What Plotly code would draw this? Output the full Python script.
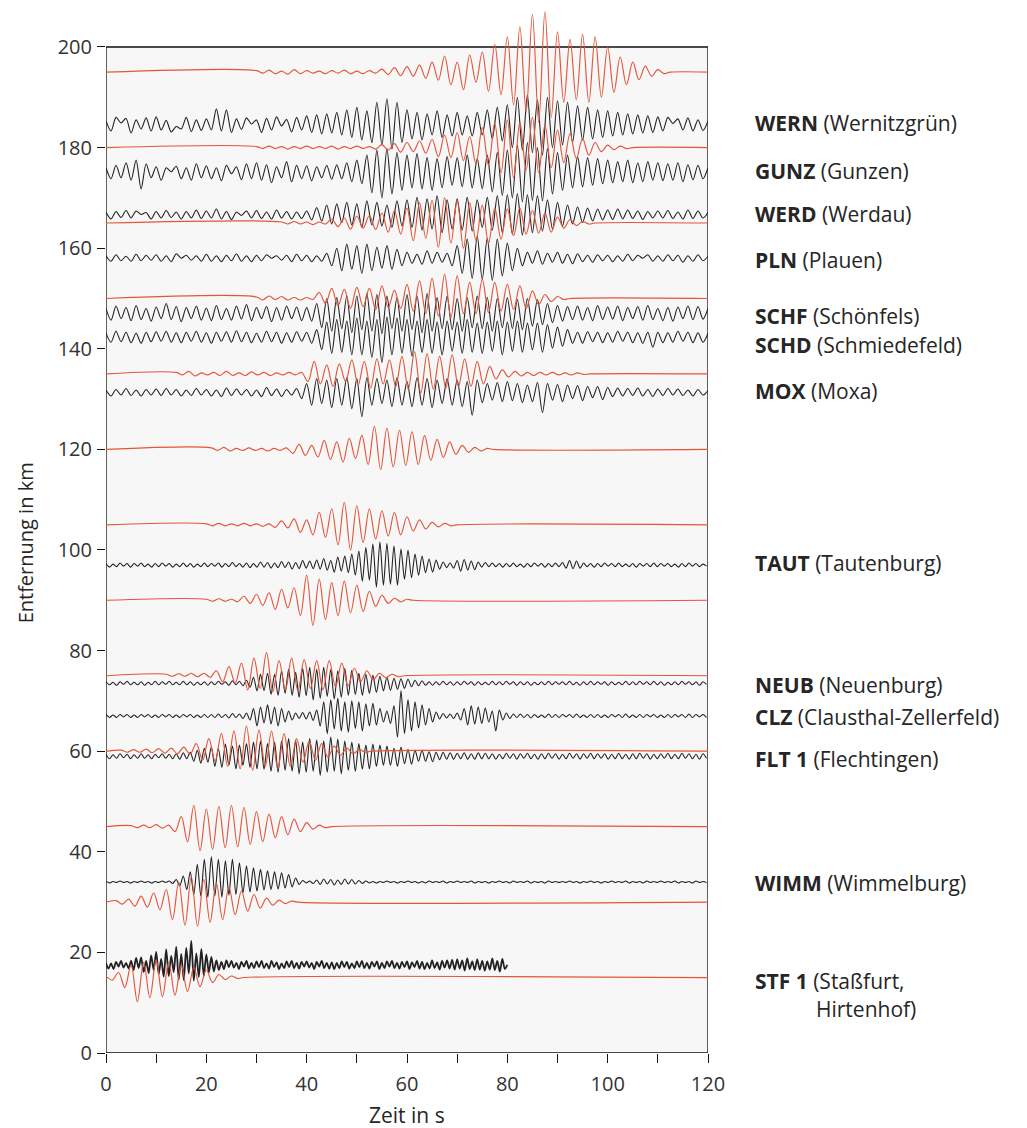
import plotly.graph_objects as go

# ---------------- data (distance offsets in km, time in s, amplitudes in km) ----------------
X_TICKS = [0, 10, 20, 30, 40, 50, 60, 70, 80, 90, 100, 110, 120]
X_TICK_LABELS = ["0", "", "20", "", "40", "", "60", "", "80", "", "100", "", "120"]
Y_TICKS = [0, 20, 40, 60, 80, 100, 120, 140, 160, 180, 200]

# synthetic (red) seismograms: offset, start time, sample step (half period), extrema
red_offsets = [195, 180, 165, 150, 135, 120, 105, 90, 75, 60, 45, 30, 15]
red_start = [30, 30, 35, 30, 14, 21, 20, 20, 12, 3, 5, 2, 0]
red_dt = 1.25

R195 = [0.3,-0.2,0.4,-0.3,0.2,-0.4,0.5,-0.3,0.3,-0.2,0.2,-0.3,0.3,-0.2,0.4,-0.3,0.2,-0.3,0.3,-0.2,
        0.6,-0.5,0.9,-0.7,1.1,-0.8,1.4,-1.2,2.0,-1.6,3.2,-2.5,2.0,-3.5,3.4,-2.0,4.0,-3.8,5.5,-4.5,
        7.0,-6.5,9.0,-8.0,11.5,-10.0,12.0,-9.0,8.0,-6.0,6.5,-5.5,7.5,-6.0,7.0,-5.0,5.0,-4.0,
        3.0,-2.5,2.0,-1.5,1.2,-0.8,0.5,-0.3]
R180 = [0.2,-0.2,0.3,-0.2,0.2,-0.3,0.2,-0.2,0.3,-0.2,0.2,-0.2,0.3,-0.3,0.2,-0.2,0.3,-0.2,0.2,-0.3,
        0.6,-0.5,0.8,-0.9,1.0,-0.8,1.3,-1.1,1.6,-1.8,2.5,-2.0,3.0,-2.6,2.2,-3.2,
        4.0,-3.5,4.8,-5.0,5.5,-6.0,5.0,-4.5,6.0,-5.0,4.5,-4.0,3.5,-3.0,2.8,-2.2,1.8,-1.5,1.0,-0.8,
        0.5,-0.4,0.3,-0.2]
R165 = [0.2,-0.2,0.3,-0.2,0.2,-0.3,0.2,-0.2,0.8,-0.7,1.0,-1.2,1.4,-1.0,1.5,-1.3,2.0,-1.8,2.5,-2.2,
        3.0,-3.5,4.0,-3.0,4.5,-4.8,5.0,-4.0,4.5,-5.0,4.0,-3.5,3.5,-4.0,3.0,-3.2,
        2.8,-2.5,3.0,-2.2,2.5,-2.0,2.0,-1.8,1.2,-1.0,0.7,-0.5,0.3,-0.2]
R150 = [0.3,-0.3,0.5,-0.2,0.4,-0.3,0.2,-0.3,0.2,-0.2,
        1.2,-1.0,2.0,-1.5,1.8,-2.0,2.2,-1.6,2.0,-2.2,2.5,-1.8,1.6,-2.0,
        2.8,-2.5,3.5,-3.0,4.0,-3.5,4.8,-3.8,4.5,-3.0,3.2,-3.0,3.8,-2.8,3.2,-2.5,2.8,-2.2,2.5,-2.0,
        1.5,-1.2,0.8,-0.6,0.4,-0.2]
R135 = [0.3,-0.2,0.5,-0.4,0.2,-0.2,0.3,-0.3,0.5,-0.3,0.2,-0.3,0.4,-0.2,0.3,-0.3,0.2,-0.2,0.3,-0.2,0.3,
        -1.5,2.5,-2.0,1.8,-2.5,2.0,-1.5,2.8,-2.2,2.5,-2.8,3.0,-2.0,2.8,-2.5,
        3.5,-3.0,4.4,-3.8,4.0,-3.0,3.5,-2.8,3.8,-2.5,3.0,-2.5,2.5,-2.0,1.5,
        -1.0,0.8,-0.6,0.5,-0.4,0.3,-0.3,0.3,-0.2,0.3,-0.2,0.2,-0.2,0.2,-0.1]
R120 = [0.3,-0.2,0.4,-0.3,0.2,-0.2,0.3,-0.2,0.2,-0.3,0.2,-0.2,0.3,
        -0.8,1.0,-1.2,0.8,-1.5,1.8,-2.0,1.5,-2.5,2.2,-1.8,2.8,-3.0,
        4.6,-4.0,4.2,-3.5,3.8,-3.2,3.5,-3.0,2.8,-2.2,2.0,-1.6,1.5,-1.0,0.8,-0.6,0.4,-0.3,0.2]
R105 = [0.2,-0.2,0.3,-0.2,0.2,-0.2,0.3,-0.2,0.2,-0.3,0.2,
        -0.5,0.8,-0.6,1.2,-1.5,1.0,-2.0,2.5,-2.5,3.2,
        -4.0,4.5,-5.0,3.8,-3.5,3.2,-2.8,2.8,-2.2,2.5,-2.0,
        1.6,-1.2,1.0,-0.8,0.5,-0.4,0.3,-0.2]
R90 = [0.2,-0.2,0.3,-0.2,0.2,-0.3,0.8,-0.6,1.2,-1.0,1.5,-1.8,2.2,-1.5,2.5,
       -3.0,5.0,-5.0,4.2,-3.8,3.5,-3.0,3.8,-2.5,3.0,-2.2,1.8,-1.2,1.0,-0.6,0.4,-0.3,0.2]
R75 = [0.3,-0.1,0.4,-0.1,0.5,-0.2,0.5,-0.3,
       1.0,-1.2,1.8,-1.5,2.5,-2.8,3.5,-2.5,4.6,-3.2,3.0,-2.8,
       3.5,-3.0,3.2,-2.5,3.0,-2.8,3.0,-2.2,2.5,-2.0,1.5,-1.2,1.0,-0.8,0.5,-0.4,0.3,-0.2]
R60 = [0.2,-0.2,0.3,-0.2,0.4,-0.3,0.5,-0.4,0.6,-0.5,0.8,-0.6,
       1.5,-1.8,2.5,-2.0,3.5,-3.0,4.0,-3.5,5.0,-3.8,4.2,-3.0,4.0,-3.5,3.5,-3.0,
       2.5,-2.2,2.0,-1.8,1.5,-1.2,1.0,-0.8,0.6,-0.5,0.3,-0.2]
R45 = [0.2,-0.2,0.3,-0.2,0.4,-0.3,0.3,
       -1.0,2.0,-3.0,4.2,-4.8,3.5,-4.5,4.0,-4.2,4.2,-4.0,3.8,-3.5,3.0,-3.0,2.5,-2.2,
       2.0,-1.6,1.5,-1.0,0.8,-0.5,0.3,-0.2]
R30 = [0.3,-0.4,0.6,-0.8,1.2,-1.0,1.8,-1.5,2.5,-3.5,4.0,-4.6,5.0,-4.8,4.5,-4.0,3.8,-3.5,
       3.0,-2.5,2.2,-1.8,1.5,-1.2,0.8,-0.6,0.4,-0.3,0.2]
R15 = [0.3,-0.5,1.0,-2.0,2.5,-4.8,3.0,-4.0,3.5,-3.8,3.0,-3.5,2.5,-2.8,
       2.0,-1.8,1.5,-1.0,0.6,-0.4,0.3,-0.2]
red_values = [R195, R180, R165, R150, R135, R120, R105, R90, R75, R60, R45, R30, R15]

# observed (black) seismograms: offset and sample step (half period) of the extrema
black_names = ["WERN", "GUNZ", "WERD", "PLN", "SCHF", "SCHD", "MOX",
               "TAUT", "NEUB", "CLZ", "FLT1", "WIMM", "STF1"]
black_offsets = [184.5, 175.0, 166.6, 158.0, 147.0, 142.3, 131.3,
                 97.0, 73.5, 67.0, 59.0, 34.0, 17.5]
black_dt = [1.0, 1.0, 1.0, 1.0, 1.0, 1.0, 1.0, 0.7, 0.7, 0.7, 0.7, 0.7, 0.5]

WERN = [0.8,-1.2,1.5,0.4,1.3,-1.6,1.0,-0.8,1.4,-1.2, 1.6,-1.0,0.9,-1.4,-0.3,-0.8,1.5,-1.3,1.0,-1.1,
        1.2,-1.0,3.2,-1.2,3.0,-1.5,1.2,-0.9,1.4,0.2, 1.0,-1.5,1.3,-1.0,1.6,-0.2,1.1,-1.4,1.5,-1.0,
        1.8,-1.5,2.0,-1.8,2.2,-1.6,2.5,-2.0,3.0,-2.5, 3.5,-3.0,2.8,-3.5,4.5,-4.0,5.2,-4.8,4.5,-3.5,
        3.0,-2.8,2.5,-3.0,2.2,-2.0,2.8,-2.5,2.0,-2.2, 2.5,-2.0,1.8,-2.2,2.5,-2.0,3.0,-2.8,3.5,-3.2,
        4.0,-4.5,5.5,-5.0,6.0,-5.5,5.0,-6.0,5.5,-4.5, 4.8,-4.0,4.5,-3.5,3.8,-3.0,3.5,-2.8,3.0,-2.5,
        2.8,-2.2,2.5,-2.0,2.2,-1.8,2.0,-1.6,1.8,-1.5, 1.6,-1.2,1.5,0.3,1.2,-1.0,1.4,-1.2,1.0,-1.1,0.8]
GUNZ = [1.0,-1.2,1.5,-1.0,2.0,-1.5,2.5,-3.2,1.8,-1.0, 1.2,-1.5,1.0,0.2,1.3,-1.2,1.0,-1.5,1.8,-1.0,
        1.4,-1.2,1.0,-1.6,1.5,-0.2,1.2,-1.4,1.8,-1.2, 2.0,-1.5,1.6,-2.0,1.2,-1.0,2.2,-1.8,1.5,-1.2,
        1.4,-1.6,1.2,-1.0,1.5,-1.3,1.6,-1.2,2.0,-1.8, 2.5,-2.2,3.5,-4.0,4.5,-5.0,4.8,-4.2,4.0,-3.5,
        3.5,-3.0,3.8,-3.2,3.0,-3.5,2.8,-3.0,3.2,-2.5, 3.0,-2.8,3.5,-3.0,2.8,-3.2,3.5,-3.8,4.0,-4.5,
        4.5,-5.0,5.5,-5.8,6.0,-5.5,5.0,-5.6,4.8,-4.2, 4.0,-3.5,3.5,-3.0,3.2,-2.8,3.0,-2.5,2.8,-2.2,
        2.5,-2.0,2.2,-1.8,2.5,-2.0,2.0,-1.8,2.2,-1.5, 2.0,-1.6,1.8,-1.5,2.0,-1.8,1.6,-1.4,1.5,-1.2,1.0]
WERD = [0.6,-0.8,0.7,-0.5,0.9,-0.6,0.8,0.1,0.5,-0.8, 0.7,-0.6,0.9,-0.5,0.6,-0.8,0.7,-0.6,1.0,-0.7,
        0.8,-0.6,1.2,-0.8,0.7,-0.9,0.6,-0.1,0.8,-0.6, 0.9,-0.7,0.6,-0.8,1.0,-0.6,0.7,-0.8,0.6,-0.7,
        0.8,-1.0,1.5,-1.2,2.0,-1.8,2.2,-1.5,2.5,-2.0, 2.2,-2.5,2.8,-2.0,2.5,-2.2,2.0,-2.5,2.8,-2.2,
        3.0,-2.5,3.5,-3.0,3.2,-2.8,3.8,-3.5,3.0,-2.8, 3.2,-3.0,3.5,-3.2,3.0,-2.5,3.5,-3.0,3.8,-3.5,
        4.0,-3.8,4.2,-4.0,4.0,-3.5,3.8,-3.2,3.0,-2.8, 2.5,-2.2,2.0,-1.8,1.6,-1.5,1.4,-1.2,1.2,-1.0,
        1.0,-0.9,1.2,-0.8,1.0,-0.7,0.8,-0.9,0.7,-0.6, 0.8,-0.6,0.9,-0.7,0.6,-0.8,1.0,-0.7,0.8,-0.6,0.5]
PLN = [0.5,-0.6,0.7,-0.5,0.4,-0.6,0.8,-0.5,0.6,-0.4, 0.7,-0.6,0.5,-0.7,0.9,0.0,0.6,-0.4,0.5,-0.6,
       0.8,-0.6,0.5,-0.7,0.6,-0.5,0.9,-0.6,0.5,-0.7, 0.6,-0.5,0.7,0.0,0.5,-0.4,0.6,-0.7,0.8,-0.5,
       0.6,-0.7,0.5,-0.6,1.0,-1.5,2.0,-2.5,2.8,-2.2, 2.5,-3.0,2.8,-2.5,2.2,-2.0,2.5,-2.2,1.8,-1.5,
       1.2,-1.0,0.8,-1.2,1.5,-1.0,1.2,-0.8,1.0,-1.5, 2.5,-3.0,3.8,-4.0,4.4,-4.2,4.0,-4.4,3.8,-3.5,
       3.0,-2.5,2.0,-1.5,1.2,-1.0,1.5,-1.2,1.0,-0.8, 1.2,-1.0,0.8,-1.1,0.9,-0.7,0.6,-0.8,0.7,-0.5,
       0.6,-0.7,0.5,-0.6,0.8,-0.5,0.6,0.0,0.7,-0.6, 0.5,-0.6,0.7,-0.5,0.6,-0.8,0.5,-0.6,0.7,-0.5,0.4]
SCHF = [1.0,-1.3,1.5,-1.0,1.2,-1.4,1.6,-1.2,1.0,-1.5, 1.3,-1.0,2.0,-1.2,1.4,-1.6,1.2,-1.0,1.5,-1.3,
        1.1,-1.4,1.6,-1.2,1.0,-1.3,1.5,-1.1,1.8,-1.4, 1.2,-1.0,1.4,-1.6,1.2,-1.3,1.5,-1.0,1.3,-1.4,
        1.2,-1.5,2.0,-2.8,3.0,-3.5,3.2,-3.0,3.5,-3.8, 3.5,-3.2,4.0,-3.5,3.8,-4.0,3.5,-3.0,3.2,-3.5,
        3.8,-3.2,3.5,-3.8,4.0,-3.5,3.2,-3.0,3.5,-3.2, 3.0,-3.5,3.2,-2.8,3.5,-3.0,3.2,-3.5,3.0,-2.8,
        3.2,-3.0,2.8,-3.2,3.0,-2.5,2.8,-2.2,2.0,-1.8, 1.6,-1.5,1.4,-1.2,1.5,-1.3,1.2,-1.4,1.6,-1.2,
        1.3,-1.1,1.5,-1.4,1.2,-1.0,1.4,-1.3,1.6,-1.2, 1.0,-1.4,1.2,-1.5,1.3,-1.0,1.5,-1.2,1.4,-1.1,1.0]
SCHD = [0.8,-1.0,1.2,-0.9,1.0,-1.1,0.8,-1.2,1.0,-0.9, 1.1,-0.8,1.2,-1.0,0.9,-1.1,1.0,-0.8,1.2,-1.0,
        0.9,-1.2,1.0,-0.8,1.1,-1.0,1.3,-0.9,1.0,-1.1, 0.8,-1.0,1.2,-0.9,1.0,-1.2,0.9,-1.0,1.1,-0.8,
        1.0,-1.2,1.5,-2.5,3.0,-3.2,3.5,-3.0,3.2,-3.5, 3.8,-3.5,3.2,-4.0,3.5,-5.0,4.0,-3.5,3.8,-3.2,
        3.5,-3.8,3.2,-3.0,3.5,-3.2,3.0,-3.5,3.2,-2.8, 3.0,-3.2,3.5,-3.0,2.8,-3.2,3.0,-2.8,3.2,-3.5,
        3.0,-2.8,3.2,-3.0,2.8,-2.5,2.8,-3.0,2.5,-2.2, 2.0,-1.8,1.5,-1.2,1.0,-1.2,1.1,-0.9,1.0,-1.1,
        0.9,-1.0,1.2,-0.8,1.0,-1.1,0.9,-1.2,1.0,-2.0, 1.0,-1.1,0.9,-1.0,1.2,-0.8,1.0,-1.1,0.9,-1.0,0.8]
MOX = [0.5,-0.7,0.6,-0.5,0.8,-0.6,0.5,-0.7,0.6,-0.5, 0.7,-0.6,0.8,-0.5,0.6,-0.7,0.5,-0.6,0.8,-0.5,
       0.6,-0.7,0.5,-0.8,0.9,-0.6,0.7,-0.5,0.6,-0.7, 0.5,-0.8,1.0,-0.6,0.7,-0.8,0.6,-0.5,0.8,-1.2,
       1.8,-2.5,2.8,-2.2,2.5,-3.0,2.8,-2.5,3.0,-3.2, 2.8,-4.8,3.0,-2.5,2.8,-2.2,2.5,-2.8,3.0,-2.5,
       2.2,-2.8,3.0,-2.5,2.8,-3.0,2.5,-2.2,2.8,-2.5, 2.5,-2.8,2.2,-4.5,2.5,-2.0,1.8,-1.5,2.0,-1.8,
       2.2,-1.6,1.8,-2.0,1.5,-1.8,2.0,-4.0,1.8,-1.5, 1.6,-1.8,1.5,-1.2,1.4,-1.6,1.2,-1.0,1.2,-1.4,
       1.0,-0.8,0.9,-0.7,0.8,-0.6,0.9,-0.7,0.6,-0.8, 0.7,-0.6,0.8,-0.5,0.7,-0.6,0.5,-0.7,0.6,-0.5,0.4]
TAUT = [0.3,-0.4,0.2,-0.3,0.4,-0.2,0.3,-0.4,0.3,-0.2, 0.4,-0.3,0.2,-0.4,0.3,-0.3,0.4,-0.2,0.3,-0.4,
        0.2,-0.3,0.4,-0.3,0.3,-0.4,0.2,-0.3,0.4,-0.3, 0.3,-0.2,0.4,-0.4,0.3,-0.3,0.5,-0.3,0.3,-0.4,
        0.4,-0.5,0.3,-0.4,0.6,-0.4,0.5,-0.6,0.4,-0.5, 0.7,-0.5,0.6,-0.8,0.5,-0.7,0.9,-0.6,0.8,-0.7,
        1.0,-0.8,1.3,-1.0,0.9,-1.4,1.6,-1.2,1.8,-1.5, 2.2,-2.0,2.8,-3.2,3.5,-3.0,4.2,-4.4,4.6,-4.0,
        4.3,-3.8,3.8,-4.0,3.2,-2.8,3.0,-2.5,2.2,-2.0, 1.8,-1.5,1.2,-1.4,1.0,-0.8,0.6,-0.5,0.4,-0.6,
        0.9,-1.2,1.1,-1.0,0.8,-0.9,0.6,-0.4,0.5,-0.3, 0.4,-0.3,0.3,-0.4,0.3,-0.3,0.4,-0.3,0.2,-0.4,
        0.3,-0.3,0.4,-0.2,0.3,-0.4,0.3,-0.3,0.4,-0.3, 0.5,-0.6,0.9,-0.7,0.8,-0.6,0.4,-0.3,0.3,-0.4,
        0.3,-0.3,0.4,-0.2,0.3,-0.3,0.4,-0.3,0.2,-0.3, 0.3,-0.4,0.3,-0.2,0.3,-0.3,0.4,-0.3,0.3,-0.2,
        0.3,-0.3,0.2,-0.4,0.3,-0.3,0.4,-0.2,0.3,-0.3, 0.2,-0.2]
NEUB = [0.3,-0.3,0.2,-0.4,0.3,-0.2,0.4,-0.3,0.2,-0.3, 0.3,-0.4,0.2,-0.3,0.4,-0.3,0.3,-0.2,0.4,-0.3,
        0.2,-0.3,0.4,-0.3,0.3,-0.4,0.2,-0.3,0.3,-0.4, 0.3,-0.3,0.4,-0.2,0.3,-0.4,0.5,-0.3,0.4,-0.5,
        0.6,-0.8,1.2,-1.5,1.8,-1.4,2.0,-2.2,1.8,-2.4, 2.5,-2.0,2.8,-2.4,2.2,-2.8,3.0,-2.5,3.2,-3.3,
        2.8,-3.0,3.2,-2.6,2.8,-3.1,2.5,-2.8,3.0,-2.4, 2.6,-2.2,2.0,-2.4,1.8,-2.0,1.6,-1.8,1.4,-1.5,
        1.2,-1.4,1.0,-1.2,0.9,-1.0,0.8,-0.7,0.6,-0.5, 0.5,-0.4,0.3,-0.4,0.3,-0.3,0.4,-0.3,0.3,-0.4,
        0.3,-0.3,0.4,-0.2,0.3,-0.4,0.3,-0.3,0.2,-0.3, 0.4,-0.3,0.3,-0.3,0.4,-0.2,0.3,-0.4,0.3,-0.3,
        0.3,-0.4,0.2,-0.3,0.3,-0.3,0.4,-0.3,0.3,-0.2, 0.3,-0.3,0.4,-0.3,0.2,-0.4,0.3,-0.3,0.4,-0.3,
        0.3,-0.2,0.3,-0.4,0.3,-0.3,0.2,-0.3,0.4,-0.3, 0.3,-0.3,0.4,-0.2,0.3,-0.3,0.4,-0.3,0.3,-0.4,
        0.2,-0.3,0.3,-0.3,0.4,-0.2,0.3,-0.3,0.3,-0.4, 0.3,-0.2]
CLZ = [0.3,-0.3,0.2,-0.3,0.3,-0.2,0.3,-0.3,0.2,-0.3, 0.3,-0.2,0.3,-0.3,0.2,-0.3,0.3,-0.2,0.3,-0.3,
       0.2,-0.3,0.3,-0.2,0.3,-0.3,0.2,-0.3,0.3,-0.3, 0.3,-0.3,0.4,-0.3,0.3,-0.4,0.5,-0.3,0.4,-0.5,
       0.6,-0.8,1.5,-2.0,1.8,-1.4,2.2,-1.6,1.8,-2.0, 1.5,-1.2,1.0,-0.8,0.6,-0.5,0.7,-0.6,0.8,-0.9,
       1.2,-2.0,2.8,-3.5,3.2,-2.6,3.5,-3.0,2.8,-3.2, 3.0,-2.5,2.8,-3.0,2.4,-2.0,2.5,-1.8,1.5,-1.2,
       1.0,-1.5,2.0,-4.2,5.0,-3.5,3.2,-3.0,2.8,-2.4, 2.2,-1.8,1.5,-1.2,0.8,-0.6,0.5,-0.4,0.4,-0.5,
       0.6,-0.8,1.5,-1.8,2.0,-1.6,1.8,-1.5,1.6,-1.2, 1.0,-3.0,1.2,-0.8,0.6,-0.5,0.4,-0.3,0.4,-0.3,
       0.3,-0.4,0.3,-0.3,0.2,-0.3,0.4,-0.3,0.3,-0.3, 0.3,-0.2,0.3,-0.3,0.4,-0.3,0.2,-0.3,0.3,-0.3,
       0.3,-0.3,0.2,-0.3,0.3,-0.2,0.3,-0.3,0.4,-0.3, 0.2,-0.3,0.3,-0.3,0.3,-0.2,0.3,-0.3,0.2,-0.3,
       0.3,-0.3,0.3,-0.2,0.3,-0.3,0.4,-0.3,0.3,-0.2, 0.3,-0.3]
FLT1 = [0.4,-0.5,0.3,-0.4,0.5,-0.3,0.4,-0.5,0.3,-0.4, 0.5,-0.4,0.3,-0.5,0.4,-0.3,0.5,-0.4,0.4,-0.5,
        0.5,-0.6,0.7,-0.5,0.8,-1.0,1.2,-1.4,1.6,-1.2, 1.8,-2.0,1.5,-2.2,2.4,-1.8,2.0,-2.5,2.2,-1.8,
        2.5,-2.2,2.8,-2.5,3.0,-2.6,2.5,-3.0,2.8,-3.2, 3.0,-2.8,3.5,-3.0,3.2,-3.5,2.8,-3.2,3.5,-3.0,
        3.2,-3.8,3.0,-3.2,3.8,-3.0,3.4,-3.5,3.0,-2.8, 2.8,-3.0,2.5,-2.6,2.2,-2.5,2.4,-2.0,2.2,-1.8,
        2.0,-1.8,1.6,-2.0,1.8,-1.5,1.4,-1.6,1.2,-1.0, 1.2,-1.0,0.9,-1.1,0.8,-0.7,0.8,-0.6,0.7,-0.6,
        0.6,-0.5,0.7,-0.6,0.5,-0.6,0.7,-0.5,0.6,-0.5, 0.5,-0.6,0.4,-0.5,0.6,-0.4,0.5,-0.6,0.5,-0.4,
        0.6,-0.5,0.4,-0.6,0.5,-0.5,0.6,-0.4,0.5,-0.6, 0.4,-0.5,0.6,-0.4,0.5,-0.6,0.5,-0.4,0.6,-0.5,
        0.5,-0.4,0.5,-0.6,0.4,-0.5,0.6,-0.5,0.4,-0.6, 0.5,-0.5,0.6,-0.4,0.5,-0.6,0.4,-0.5,0.5,-0.4,
        0.6,-0.5,0.4,-0.5,0.6,-0.4,0.5,-0.5,0.4,-0.6, 0.5,-0.4]
WIMM = [0.1,-0.2,0.1,-0.1,0.2,-0.1,0.1,-0.2,0.1,-0.1, 0.2,-0.1,0.1,-0.2,0.1,-0.1,0.2,-0.1,0.2,-0.3,
        0.5,-0.8,1.2,-1.5,2.0,-2.5,3.5,-2.8,4.5,-3.0, 5.0,-2.8,4.5,-3.0,4.2,-2.6,4.5,-2.5,3.8,-2.2,
        3.2,-2.0,2.8,-1.8,2.5,-1.6,2.2,-1.5,2.0,-1.4, 1.8,-1.2,1.5,-1.0,0.8,-0.5,0.3,-0.2,0.2,-0.3,
        0.4,-0.5,0.6,-0.4,0.5,-0.6,0.4,-0.5,0.6,-0.4, 0.5,-0.4,0.3,-0.3,0.2,-0.2,0.1,-0.2,0.1,-0.1,
        0.2,-0.1,0.1,-0.2,0.1,-0.1,0.2,-0.1,0.1,-0.2, 0.1,-0.2,0.2,-0.1,0.1,-0.1,0.2,-0.2,0.1,-0.1,
        0.2,-0.1,0.1,-0.1,0.2,-0.2,0.1,-0.1,0.1,-0.2, 0.1,-0.1,0.2,-0.1,0.1,-0.2,0.2,-0.1,0.1,-0.1,
        0.2,-0.2,0.1,-0.1,0.1,-0.2,0.2,-0.1,0.1,-0.1, 0.1,-0.1,0.2,-0.1,0.1,-0.2,0.1,-0.1,0.2,-0.1,
        0.1,-0.2,0.1,-0.1,0.2,-0.1,0.1,-0.1,0.2,-0.2, 0.1,-0.1,0.1,-0.2,0.2,-0.1,0.1,-0.1,0.2,-0.1,
        0.1,-0.1,0.2,-0.2,0.1,-0.1,0.1,-0.2,0.2,-0.1, 0.1,-0.1]
STF1 = [0.4,-0.7,0.3,-0.8,0.6,-0.3,0.8,-0.5,0.4,-0.7, 0.8,-1.0,1.4,-0.6,1.5,-1.4,0.8,-1.6,1.9,-1.0,
        2.6,-1.8,1.2,-2.3,3.1,-2.2,1.8,-1.4,3.6,-2.9, 2.2,-3.0,3.4,-1.7,4.8,-3.1,2.3,-2.4,3.2,-2.2,
        2.1,-1.5,1.6,-1.3,0.9,-1.0,0.6,-0.8,0.9,-0.4, 0.8,-0.5,0.4,-0.8,0.6,-0.3,0.8,-0.7,0.4,-0.6,
        0.7,-0.4,0.8,-0.6,0.3,-0.7,0.8,-0.4,0.5,-0.8, 0.3,-0.6,0.7,-0.4,0.8,-0.6,0.4,-0.7,0.6,-0.3,
        0.7,-0.5,0.4,-0.8,0.6,-0.3,0.8,-0.6,0.4,-0.7, 0.5,-0.8,0.4,-0.6,0.7,-0.4,0.6,-0.7,0.3,-0.6,
        0.7,-0.4,0.8,-0.6,0.4,-0.7,0.6,-0.3,0.7,-0.8, 0.4,-0.6,0.7,-0.3,0.8,-0.6,0.4,-0.7,0.6,-0.4,
        0.7,-0.8,0.5,-0.4,0.8,-0.7,0.6,-0.8,0.4,-0.7, 0.9,-0.6,0.5,-0.9,0.8,-0.5,0.9,-0.7,1.0,-0.9,
        1.1,-0.7,0.9,-1.1,1.3,-0.8,0.7,-1.0,1.1,-0.9, 0.8,-1.1,0.7,-0.9,1.3,-1.0,0.8,-1.3,1.2,-0.8,0.0]
black_values = [WERN, GUNZ, WERD, PLN, SCHF, SCHD, MOX, TAUT, NEUB, CLZ, FLT1, WIMM, STF1]

# station labels (right side) and the distance where each label sits
label_texts = ["<b>WERN</b> (Wernitzgrün)", "<b>GUNZ</b> (Gunzen)", "<b>WERD</b> (Werdau)",
               "<b>PLN</b> (Plauen)", "<b>SCHF</b> (Schönfels)", "<b>SCHD</b> (Schmiedefeld)",
               "<b>MOX</b> (Moxa)", "<b>TAUT</b> (Tautenburg)", "<b>NEUB</b> (Neuenburg)",
               "<b>CLZ</b> (Clausthal-Zellerfeld)", "<b>FLT 1</b> (Flechtingen)",
               "<b>WIMM</b> (Wimmelburg)", "<b>STF 1</b> (Staßfurt,"]
label_y = [184.9, 175.3, 166.8, 157.7, 146.5, 140.8, 131.6, 97.4, 73.2, 66.8, 58.4, 33.8, 14.3]
label_extra_text = "Hirtenhof)"
label_extra_y = 8.8

# ---------------- figure ----------------
FONT = "Open Sans, Noto Sans, DejaVu Sans, sans-serif"
RED = "#e4553a"
BLACK = "#222222"

fig = go.Figure()

for name, off, dt, vals in zip(black_names, black_offsets, black_dt, black_values):
    xs = [i * dt for i in range(len(vals))]
    ys = [off + v for v in vals]
    fig.add_trace(go.Scatter(x=xs, y=ys, mode="lines", name=name,
                             line=dict(color=BLACK, width=1.8 if name == "STF1" else 1.1,
                                       shape="spline", smoothing=0.8),
                             hoverinfo="skip", showlegend=False))

for off, t0, vals in zip(red_offsets, red_start, red_values):
    xs = [t0 + i * red_dt for i in range(len(vals))]
    ys = [off + v for v in vals]
    if t0 > 0:
        xs = [0] + xs
        ys = [off] + ys
    xs = xs + [xs[-1] + red_dt, 120]
    ys = ys + [off, off]
    fig.add_trace(go.Scatter(x=xs, y=ys, mode="lines",
                             line=dict(color=RED, width=1.15, shape="spline", smoothing=1.0),
                             hoverinfo="skip", showlegend=False))

# frame / grey panel
fig.add_shape(type="rect", xref="x", yref="y", x0=0, x1=120, y0=0, y1=200,
              fillcolor="#f7f7f7", line=dict(color="#111111", width=1.3), layer="below")

for txt, yv in zip(label_texts, label_y):
    fig.add_annotation(xref="paper", yref="y", x=1.075, y=yv, text=txt, showarrow=False,
                       xanchor="left", yanchor="middle",
                       font=dict(family=FONT, size=21, color="#262626"))
fig.add_annotation(xref="paper", yref="y", x=1.176, y=label_extra_y, text=label_extra_text,
                   showarrow=False, xanchor="left", yanchor="middle",
                   font=dict(family=FONT, size=21, color="#262626"))

# axis titles
fig.add_annotation(xref="paper", yref="paper", x=-0.134, y=0.488, text="Entfernung in km",
                   textangle=-90, showarrow=False, xanchor="center", yanchor="middle",
                   font=dict(family=FONT, size=20, color="#262626"))
fig.add_annotation(xref="x", yref="paper", x=60, y=-0.059, text="Zeit in s",
                   showarrow=False, xanchor="center", yanchor="middle",
                   font=dict(family=FONT, size=21, color="#262626"))

# the page adds an 8 px body margin, so the figure is drawn 8 px smaller than the window
fig.update_layout(
    width=1019, height=1120,
    margin=dict(l=98, r=319, t=0, b=75),
    paper_bgcolor="white", plot_bgcolor="white",
    showlegend=False,
    xaxis=dict(range=[0, 120], tickvals=X_TICKS, ticktext=X_TICK_LABELS,
               ticks="outside", ticklen=9, tickwidth=1.2, tickcolor="#111111",
               showgrid=False, zeroline=False, showline=False, ticklabelstandoff=4,
               tickfont=dict(family=FONT, size=20, color="#333333")),
    yaxis=dict(range=[0, 207.75], tickvals=Y_TICKS,
               ticks="outside", ticklen=8, tickwidth=1.2, tickcolor="#111111",
               showgrid=False, zeroline=False, showline=False, ticklabelstandoff=1,
               tickfont=dict(family=FONT, size=20, color="#333333")),
)

fig.write_html("out.html")
